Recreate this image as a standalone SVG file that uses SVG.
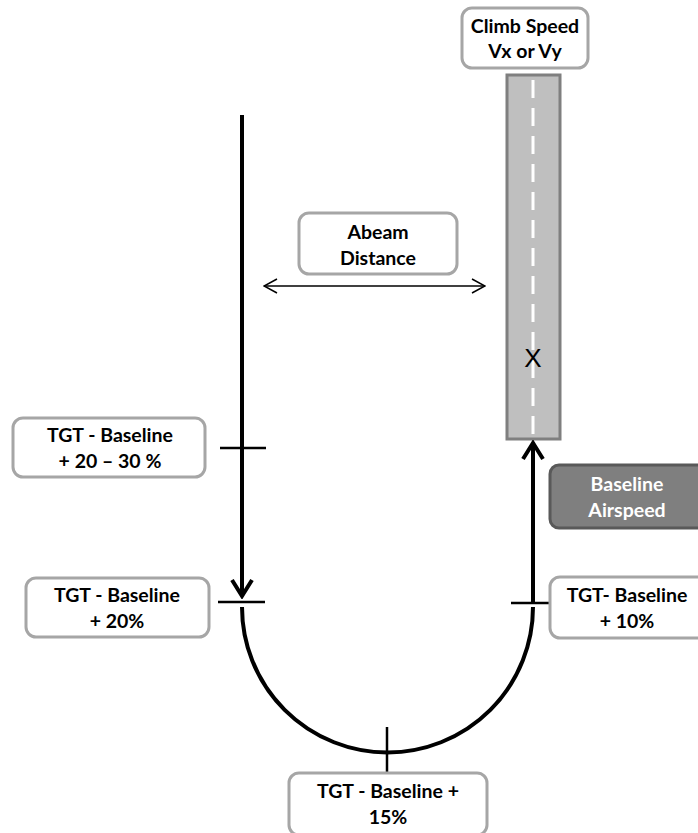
<svg xmlns="http://www.w3.org/2000/svg" width="698" height="833" viewBox="0 0 698 833">
<style>
.box{fill:#fff;stroke:#a6a6a6;stroke-width:3}
.t{font-family:Lato,"Open Sans","Liberation Sans",sans-serif;font-weight:bold;font-size:19.5px;fill:#000;text-anchor:middle}
.w{fill:#fff}
.ln{stroke:#000;stroke-width:4;fill:none}
.tick{stroke:#000;stroke-width:2.5;fill:none}
</style>
<defs>
<marker id="chev" viewBox="0 0 24 24" refX="21" refY="12" markerWidth="24" markerHeight="24" markerUnits="userSpaceOnUse" orient="auto">
<path d="M5,2 L21,12 L5,22" fill="none" stroke="#000" stroke-width="4"/>
</marker>
<marker id="thin" viewBox="0 0 16 16" refX="15" refY="8" markerWidth="16" markerHeight="16" markerUnits="userSpaceOnUse" orient="auto-start-reverse">
<path d="M2,1 L15,8 L2,15" fill="none" stroke="#000" stroke-width="1.5"/>
</marker>
</defs>
<g id="runway">
<rect x="507" y="75" width="53" height="364" fill="#bfbfbf" stroke="#7f7f7f" stroke-width="3"/>
<line x1="533" y1="80" x2="533" y2="436" stroke="#fff" stroke-width="3" stroke-dasharray="18,10"/>
<text x="533" y="367" font-family="'Liberation Sans',sans-serif" font-size="26" text-anchor="middle">X</text>
</g>
<g id="connectors">
<line class="ln" x1="242" y1="115" x2="242" y2="596" marker-end="url(#chev)"/>
<path class="ln" d="M242,607 A145.5,145.5 0 0 0 533,607"/>
<line class="ln" x1="533" y1="604" x2="533" y2="443" marker-end="url(#chev)"/>
<line x1="264" y1="286" x2="485" y2="286" stroke="#000" stroke-width="1.5" marker-start="url(#thin)" marker-end="url(#thin)"/>
<line class="tick" x1="220" y1="448" x2="266" y2="448"/>
<line class="tick" x1="218" y1="602" x2="265" y2="602"/>
<line class="tick" x1="511" y1="603" x2="558" y2="603"/>
<line class="tick" x1="387" y1="727" x2="387" y2="772"/>
</g>
<g id="climb">
<rect class="box" x="462" y="8" width="126" height="60" rx="10"/>
<text class="t" x="525" y="33">Climb Speed</text>
<text class="t" x="525" y="58">Vx or Vy</text>
</g>
<g id="abeam">
<rect class="box" x="299" y="213" width="158" height="61" rx="10"/>
<text class="t" x="378" y="239">Abeam</text>
<text class="t" x="378" y="265">Distance</text>
</g>
<g id="baseline-airspeed">
<rect x="550" y="465" width="160" height="63" rx="9" fill="#7f7f7f" stroke="#595959" stroke-width="3"/>
<text class="t w" x="627" y="491">Baseline</text>
<text class="t w" x="627" y="517">Airspeed</text>
</g>
<g id="tgt-20-30">
<rect class="box" x="13" y="418" width="192" height="59" rx="10"/>
<text class="t" x="110" y="442">TGT - Baseline</text>
<text class="t" x="110" y="468">+ 20 – 30 %</text>
</g>
<g id="tgt-20">
<rect class="box" x="26" y="578" width="183" height="59" rx="10"/>
<text class="t" x="117" y="602">TGT - Baseline</text>
<text class="t" x="117" y="628">+ 20%</text>
</g>
<g id="tgt-10">
<rect class="box" x="550" y="577" width="160" height="61" rx="10"/>
<text class="t" x="627" y="602">TGT- Baseline</text>
<text class="t" x="627" y="628">+ 10%</text>
</g>
<g id="tgt-15">
<rect class="box" x="289" y="773" width="198" height="62" rx="10"/>
<text class="t" x="388" y="798">TGT - Baseline +</text>
<text class="t" x="388" y="824">15%</text>
</g>
</svg>
